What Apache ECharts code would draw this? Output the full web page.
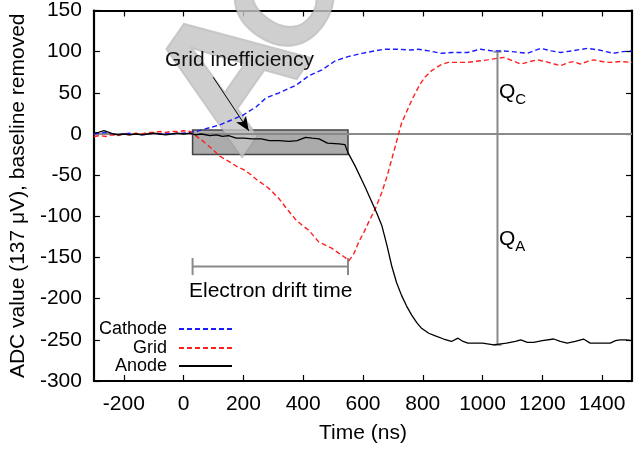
<!DOCTYPE html>
<html>
<head>
<meta charset="utf-8">
<script src="https://cdn.jsdelivr.net/npm/echarts@6/dist/echarts.min.js"></script>
<style>
  html, body { margin: 0; padding: 0; background: #fff; }
  #chart { width: 634px; height: 449px; }
</style>
</head>
<body>
<div id="chart"></div>
<script>
// Pulse shapes (time in ns, ADC counts with baseline removed)
const cathode = [
  [-300,0],[-280,1],[-260,2],[-240,0],[-220,-1],[-200,0],[-180,1],[-160,0],[-140,-1],[-120,0],
  [-100,1],[-80,0],[-60,1],[-40,0],[-20,1],[0,1],[20,2],[42,3],[80,7],[121,11],[160,17],
  [199,23],[243,33],[276,44],[320,50],[375,59],[420,71],[463,78],[508,89],[550,94],[597,98],
  [640,101],[673,103],[720,103],[760,102],[785,103],[820,101],[862,98],[900,99],[950,99],
  [993,103],[1030,101],[1062,101],[1100,100],[1150,98],[1194,104],[1230,101],[1261,99],
  [1300,101],[1350,104],[1390,102],[1436,98],[1470,100],[1500,101]
];
const grid = [
  [-300,-3],[-280,-2],[-260,-3],[-240,-1],[-220,-2],[-200,0],[-180,-1],[-160,1],[-140,0],
  [-120,2],[-100,2],[-80,3],[-60,2],[-40,3],[-20,3],[0,4],[22,3],[40,-2],[66,-9],[95,-18],
  [121,-27],[150,-33],[176,-39],[199,-43],[220,-48],[243,-55],[270,-62],[288,-67],[320,-79],
  [350,-93],[375,-104],[397,-111],[419,-117],[452,-131],[480,-136],[497,-139],[520,-145],
  [540,-150],[553,-154],[570,-145],[586,-131],[605,-118],[619,-107],[641,-91],[663,-71],
  [680,-52],[696,-31],[729,13],[763,41],[790,60],[807,69],[830,77],[860,84],[885,87],
  [950,87],[1016,90],[1050,92],[1072,93],[1100,89],[1128,85],[1160,88],[1183,90],[1210,88],
  [1240,85],[1261,83],[1290,87],[1305,88],[1327,85],[1350,88],[1372,90],[1400,88],
  [1427,87],[1460,88],[1500,87]
];
const anode = [
  [-300,1],[-285,2],[-266,4],[-250,2],[-235,0],[-220,-1],[-200,0],[-180,-1],[-160,0],[-140,-1],
  [-120,0],[-100,1],[-80,0],[-60,-1],[-40,0],[-20,1],[0,0],[20,1],[40,-1],[60,0],[88,-2],
  [110,-1],[130,-3],[150,-2],[176,-5],[200,-5],[230,-6],[260,-6],[287,-8],[320,-8],[353,-9],
  [380,-8],[408,-4],[430,-5],[453,-6],[481,-11],[520,-12],[540,-13],[549,-22],[574,-39],
  [608,-65],[625,-79],[645,-95],[663,-111],[680,-135],[696,-160],[712,-180],[729,-196],
  [746,-209],[763,-220],[780,-229],[796,-236],[820,-242],[840,-245],[870,-249],[896,-252],
  [918,-248],[935,-252],[951,-254],[1000,-254],[1038,-256],[1080,-254],[1110,-252],
  [1128,-250],[1150,-253],[1171,-253],[1200,-251],[1238,-249],[1260,-252],[1283,-254],
  [1310,-252],[1338,-249],[1360,-254],[1400,-254],[1427,-254],[1445,-251],[1460,-250],
  [1480,-250],[1500,-251]
];

// Annotation geometry in data units
const zeroLine = [[-300,0],[1500,0]];
const chargeLine = [[1050,100],[1050,-256]];
const driftBar = [[30,-161],[550,-161]];
const inefficiencyBox = [[30,5],[550,-25]];
const arrowPath = [[99,69],[218,4]];

// Axis tick positions
const xTicks = [-200,0,200,400,600,800,1000,1200,1400];
const xRange = [-300,1500];
const yRange = [-300,150];
const yStep = 50;

const FONT = 'Liberation Sans, Arial, Helvetica, sans-serif';
const chart = echarts.init(document.getElementById('chart'), null, { renderer: 'canvas' });

const frameLine = { show: true, onZero: false, lineStyle: { color: '#000', width: 2.2 } };
const innerTick = { show: true, inside: true, length: 6, lineStyle: { color: '#000', width: 1.2 } };
const plainNumber = v => String(v);

function legendFor(name, top) {
  return {
    data: [name],
    orient: 'vertical',
    align: 'right',
    right: 401,
    top: top,
    itemWidth: 53,
    itemHeight: 14,
    padding: 0,
    selectedMode: false,
    itemStyle: { opacity: 0 },
    textStyle: { fontFamily: FONT, fontSize: 18, color: '#000', padding: [0, 7, 0, 0] }
  };
}

// Grey embossed lettering behind the traces
const letterStyle = {
  textAlign: 'center', textVerticalAlign: 'middle',
  fill: 'rgba(196,196,196,0.82)',
  stroke: 'rgba(150,150,150,0.5)', lineWidth: 2,
  shadowColor: 'rgba(0,0,0,0.2)', shadowBlur: 7, shadowOffsetX: 2, shadowOffsetY: 3
};

const option = {
  animation: false,
  grid: { left: 90, right: 2, top: 10, bottom: 66, containLabel: false },
  xAxis: [
    {
      type: 'value', min: xRange[0], max: xRange[1], position: 'bottom',
      axisLine: frameLine,
      axisTick: Object.assign({ customValues: xTicks }, innerTick),
      axisLabel: { customValues: xTicks, formatter: plainNumber, fontFamily: FONT, fontSize: 21, color: '#000', margin: 13 },
      splitLine: { show: false },
      name: 'Time (ns)', nameLocation: 'middle', nameGap: 42,
      nameTextStyle: { fontFamily: FONT, fontSize: 21, color: '#000' }
    },
    {
      type: 'value', min: xRange[0], max: xRange[1], position: 'top',
      axisLine: frameLine,
      axisTick: Object.assign({ customValues: xTicks }, innerTick),
      axisLabel: { show: false },
      splitLine: { show: false }
    }
  ],
  yAxis: [
    {
      type: 'value', min: yRange[0], max: yRange[1], interval: yStep, position: 'left',
      axisLine: frameLine, axisTick: innerTick,
      axisLabel: { formatter: plainNumber, fontFamily: FONT, fontSize: 21, color: '#000', margin: 12 },
      splitLine: { show: false },
      name: 'ADC value (137 \u03BCV), baseline removed', nameLocation: 'middle', nameGap: 58,
      nameTextStyle: { fontFamily: FONT, fontSize: 21, color: '#000' }
    },
    {
      type: 'value', min: yRange[0], max: yRange[1], interval: yStep, position: 'right',
      axisLine: frameLine, axisTick: innerTick,
      axisLabel: { show: false }, splitLine: { show: false }
    }
  ],
  legend: [legendFor('Cathode', 320), legendFor('Grid', 339), legendFor('Anode', 357)],
  graphic: [
    {
      type: 'text', z: 2, x: 236, y: 79, rotation: 55 * Math.PI / 180,
      style: Object.assign({ text: 'A', font: 'bold 180px ' + FONT }, letterStyle)
    },
    {
      type: 'text', z: 2, x: 292, y: 2, rotation: 55 * Math.PI / 180,
      style: Object.assign({ text: 'O', font: 'bold 136px ' + FONT }, letterStyle)
    },
    {
      type: 'text', z: 20, left: 165, top: 50,
      style: { text: 'Grid inefficiency', font: '21px ' + FONT, fill: '#111' }
    },
    {
      type: 'text', z: 20, left: 189, top: 281,
      style: { text: 'Electron drift time', font: '21px ' + FONT, fill: '#000' }
    },
    {
      type: 'text', z: 20, left: 499, top: 82,
      style: {
        text: '{q|Q}{s|C}', fill: '#000',
        rich: {
          q: { font: '21px ' + FONT, fill: '#000', verticalAlign: 'top' },
          s: { font: '15px ' + FONT, fill: '#000', padding: [10, 0, 0, 0], verticalAlign: 'top' }
        }
      }
    },
    {
      type: 'text', z: 20, left: 499, top: 229,
      style: {
        text: '{q|Q}{s|A}', fill: '#000',
        rich: {
          q: { font: '21px ' + FONT, fill: '#000', verticalAlign: 'top' },
          s: { font: '15px ' + FONT, fill: '#000', padding: [10, 0, 0, 0], verticalAlign: 'top' }
        }
      }
    }
  ],
  series: [
    {
      name: 'box', type: 'line', data: [], z: 1, silent: true,
      markArea: {
        silent: true,
        itemStyle: { color: '#ababab', borderColor: '#444', borderWidth: 1.5 },
        data: [[{ coord: inefficiencyBox[0] }, { coord: inefficiencyBox[1] }]]
      }
    },
    {
      name: 'zero', type: 'line', data: zeroLine, z: 3, symbol: 'none', silent: true,
      lineStyle: { color: '#8a8a8a', width: 2 }
    },
    {
      name: 'charge', type: 'line', data: chargeLine, z: 3, silent: true,
      symbol: 'rect', symbolSize: [8, 2],
      itemStyle: { color: '#8a8a8a' },
      lineStyle: { color: '#8a8a8a', width: 2 }
    },
    {
      name: 'drift', type: 'line', data: driftBar, z: 3, silent: true,
      symbol: 'rect', symbolSize: [2, 17],
      itemStyle: { color: '#8a8a8a' },
      lineStyle: { color: '#8a8a8a', width: 2 }
    },
    {
      name: 'arrow', type: 'line', data: [], z: 6, silent: true,
      markLine: {
        silent: true, symbol: ['none', 'arrow'], symbolSize: [9, 14],
        label: { show: false },
        lineStyle: { color: '#000', width: 1, type: 'solid' },
        data: [[{ coord: arrowPath[0] }, { coord: arrowPath[1] }]]
      }
    },
    {
      name: 'Cathode', type: 'line', data: cathode, z: 5, symbol: 'none',
      lineStyle: { color: '#1a1aff', width: 1.4, type: [5, 3] },
      itemStyle: { color: '#1a1aff' }
    },
    {
      name: 'Grid', type: 'line', data: grid, z: 5, symbol: 'none',
      lineStyle: { color: '#ff2020', width: 1.4, type: [5, 3] },
      itemStyle: { color: '#ff2020' }
    },
    {
      name: 'Anode', type: 'line', data: anode, z: 5, symbol: 'none',
      lineStyle: { color: '#000', width: 1.3 },
      itemStyle: { color: '#000' }
    }
  ]
};

chart.setOption(option);
</script>
</body>
</html>
